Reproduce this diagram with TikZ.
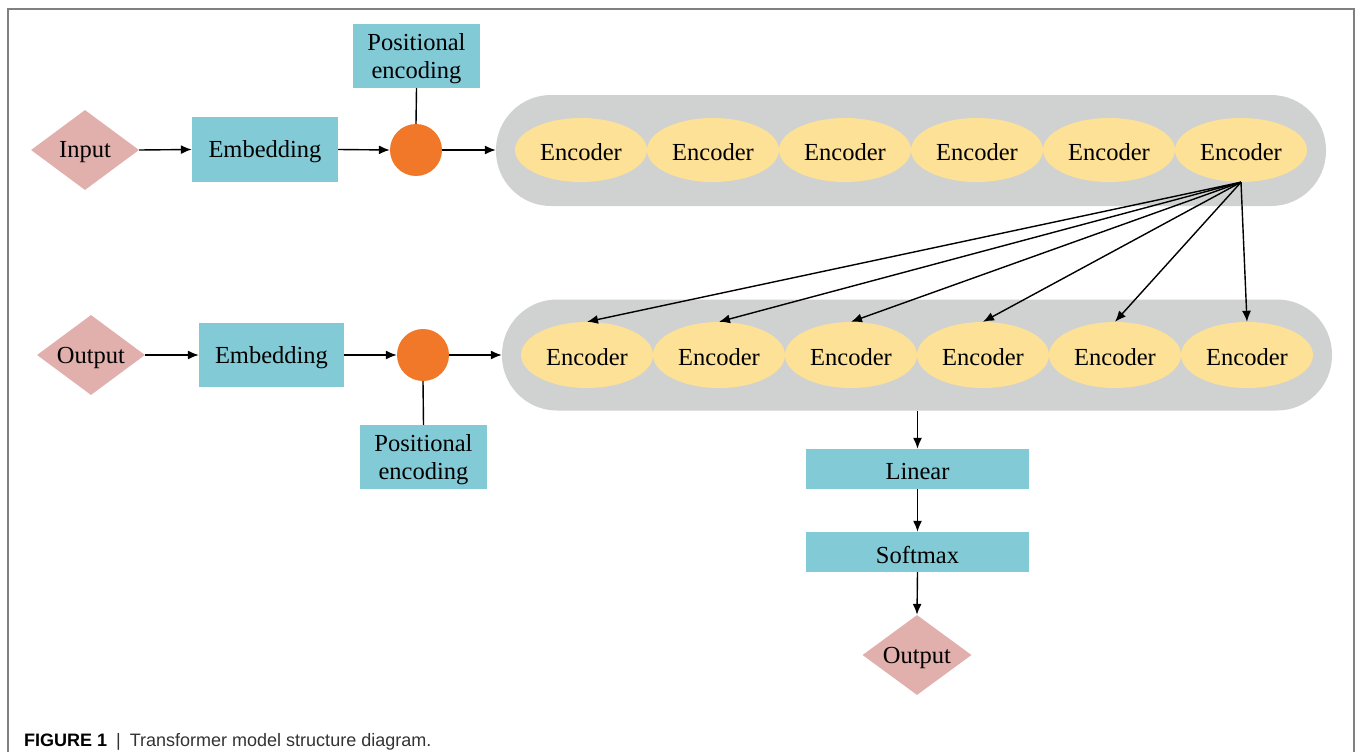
\documentclass[tikz,border=0pt]{standalone}
\usepackage{fontspec}
\setmainfont{Liberation Serif}
\newfontfamily\capfont{Liberation Sans}
\usetikzlibrary{shapes.geometric,arrows.meta}
\definecolor{pinkd}{HTML}{E1B0AC}
\definecolor{tealb}{HTML}{82CAD6}
\definecolor{orangec}{HTML}{F07828}
\definecolor{grayg}{HTML}{D0D1D1}
\definecolor{yellowe}{HTML}{FCE196}
\definecolor{framec}{HTML}{808080}
\newcommand{\dn}[1]{\raisebox{-2.5pt}[\height][\depth]{#1}}
\newcommand{\twoline}[2]{\raisebox{-2.5pt}[\height][\depth]{\begin{tabular}{@{}c@{}}#1\\#2\end{tabular}}}
\tikzset{
  lbl/.style={font=\fontsize{24.5}{28}\selectfont, text=black, inner sep=0pt},
  diam/.style={diamond, fill=pinkd, minimum width=108pt, minimum height=80pt, inner sep=0pt},
  tbox/.style={rectangle, fill=tealb, inner sep=0pt, align=center, font=\fontsize{24.5}{28}\selectfont},
  dot/.style={circle, fill=orangec, minimum size=52pt, inner sep=0pt},
  pill/.style={rectangle, fill=grayg, minimum width=830pt, minimum height=111pt, rounded corners=55pt, inner sep=0pt},
  enc/.style={ellipse, fill=yellowe, minimum width=132pt, minimum height=64pt, inner sep=0pt, font=\fontsize{24.5}{28}\selectfont},
  arr/.style={line width=1.4pt, -{Latex[length=11pt,width=9pt]}},
  ln/.style={line width=1.4pt},
  frm/.style={draw=framec, line width=1.5pt}
}
\begin{document}
\begin{tikzpicture}[x=1pt,y=-1pt]
\useasboundingbox (0,0) rectangle (1355,752);
\fill[white] (0,0) rectangle (1355,752);
\draw[frm] (8,752) -- (8,9) -- (1354,9) -- (1354,752);

% ---- top row ----
\node[diam] (in1) at (85,150) {};
\node[lbl] (in1t) at (in1.center) {\dn{Input}};
\node[tbox, minimum width=146pt, minimum height=65pt] (emb1) at (265,149.5) {\dn{Embedding}};
\node[tbox, minimum width=127pt, minimum height=64pt] (pe1) at (416.5,56) {\twoline{Positional}{encoding}};
\node[dot] (c1) at (416,150) {};
\node[pill] (g1) at (911,150.5) {};
\foreach \i/\x in {1/581,2/713,3/845,4/977,5/1109,6/1241}
  \node[enc] (ea\i) at (\x,150) {\dn{Encoder}};

% ---- middle row ----
\node[diam] (out1) at (91,355) {};
\node[lbl] (out1t) at (out1.center) {\dn{Output}};
\node[tbox, minimum width=145pt, minimum height=64pt] (emb2) at (271.5,355) {\dn{Embedding}};
\node[tbox, minimum width=127pt, minimum height=64pt] (pe2) at (423.5,457) {\twoline{Positional}{encoding}};
\node[dot] (c2) at (423,355) {};
\node[pill] (g2) at (917,355) {};
\foreach \i/\x in {1/587,2/719,3/851,4/983,5/1115,6/1247}
  \node[enc, minimum height=66pt] (eb\i) at (\x,355) {\dn{Encoder}};

% ---- output column ----
\node[tbox, minimum width=223pt, minimum height=40pt] (lin) at (917.5,469) {\dn{Linear}};
\node[tbox, minimum width=223pt, minimum height=40pt] (soft) at (917.5,552) {\dn{Softmax}};
\node[diam, minimum width=109pt] (out2) at (917,655) {};
\node[lbl] (out2t) at (out2.center) {\dn{Output}};

% ---- connectors ----
\draw[arr] (in1.east) -- (emb1.west);
\draw[arr] (emb1.east) -- (c1.west);
\draw[arr] (c1.east) -- (g1.west |- c1.east);
\draw[ln] (pe1.south) -- (c1.north);

\draw[arr] (out1.east) -- (emb2.west);
\draw[arr] (emb2.east) -- (c2.west);
\draw[arr] (c2.east) -- (g2.west |- c2.east);
\draw[ln] (pe2.north) -- (c2.south);

\foreach \i in {1,...,6}
  \draw[arr] (ea6.south) -- (eb\i.north);

\draw[arr] (g2.south -| lin.north) -- (lin.north);
\draw[arr] (lin.south) -- (soft.north);
\draw[arr] (soft.south) -- (out2.north);

% ---- caption ----
\node[anchor=base west, inner sep=0pt, font=\capfont\fontsize{18}{20}\selectfont, text=black!80] (cap) at (24,746)
  {{\bfseries\color{black} FIGURE 1}\hspace{0.5em}|\hspace{0.5em}Transformer model structure diagram.};
\end{tikzpicture}
\end{document}
